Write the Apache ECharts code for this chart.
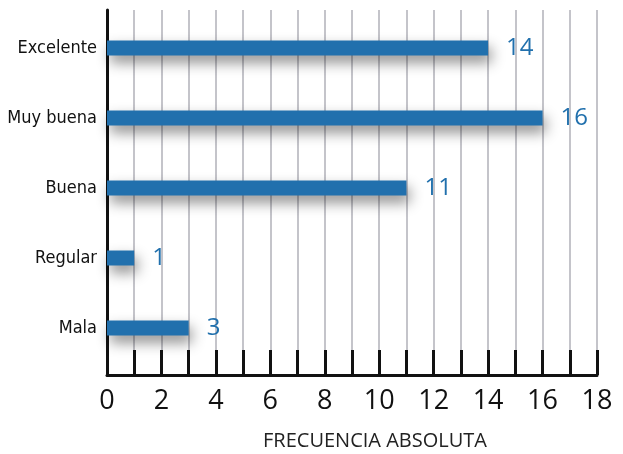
<!DOCTYPE html>
<html>
<head>
<meta charset="utf-8">
<style>
  html, body { margin: 0; padding: 0; background: #fff; }
  #chart { width: 623px; height: 454px; }
</style>
<script src="https://cdn.jsdelivr.net/npm/echarts@6/dist/echarts.min.js"></script>
</head>
<body>
<div id="chart"></div>
<script>
// Calidad percibida: frecuencia absoluta por categoría
const categories = ['Mala', 'Regular', 'Buena', 'Muy buena', 'Excelente'];
const frecuencias = [3, 1, 11, 16, 14];
const xMin = 0;
const xMax = 18;
const axisTitle = 'FRECUENCIA ABSOLUTA';

const barColor = '#2170ad';
const labelFont = '"Open Sans", "DejaVu Sans", sans-serif';
const catFont = '"DejaVu Sans Condensed", "Liberation Sans Narrow", sans-serif';

const chart = echarts.init(document.getElementById('chart'), null, { renderer: 'canvas' });

chart.setOption({
  animation: false,
  grid: [
    // frame grid: vertical lines, ticks and the frequency axis
    { left: 107, right: 26, top: 10, bottom: 79, outerBoundsMode: 'none', containLabel: false },
    // bar grid: category bands
    { left: 107, right: 26, top: 13, bottom: 91, outerBoundsMode: 'none', containLabel: false }
  ],
  xAxis: [
    {
      gridIndex: 0,
      type: 'value',
      min: xMin,
      max: xMax,
      interval: 1,
      axisLine: { show: true, lineStyle: { color: '#111', width: 3 } },
      axisTick: { show: true, inside: true, length: 25, lineStyle: { color: '#111', width: 3 } },
      splitLine: { show: true, lineStyle: { color: '#b0b0b8', width: 1.5 } },
      axisLabel: {
        margin: 13,
        fontSize: 27,
        color: '#111',
        fontFamily: labelFont,
        formatter: v => (v % 2 === 0 ? String(v) : '')
      },
      name: axisTitle,
      nameLocation: 'middle',
      nameGap: 56,
      nameTextStyle: { fontSize: 20, color: '#222', fontFamily: labelFont, padding: [0, 0, 0, 46] }
    },
    {
      gridIndex: 1,
      type: 'value',
      min: xMin,
      max: xMax,
      show: false
    }
  ],
  yAxis: [
    {
      gridIndex: 0,
      type: 'value',
      min: 0,
      max: 1,
      axisLine: { show: true, lineStyle: { color: '#111', width: 3 } },
      axisTick: { show: false },
      axisLabel: { show: false },
      splitLine: { show: false }
    },
    {
      gridIndex: 1,
      type: 'category',
      data: categories,
      axisLine: { show: false },
      axisTick: { show: false },
      splitLine: { show: false },
      axisLabel: {
        margin: 10,
        fontSize: 18,
        color: '#111',
        fontFamily: catFont
      }
    }
  ],
  series: [
    {
      type: 'bar',
      xAxisIndex: 1,
      yAxisIndex: 1,
      data: frecuencias,
      barWidth: 15,
      itemStyle: {
        color: barColor,
        shadowColor: 'rgba(0,0,0,0.45)',
        shadowBlur: 14,
        shadowOffsetX: 3,
        shadowOffsetY: 7
      },
      label: {
        show: true,
        position: 'right',
        distance: 18,
        fontSize: 24,
        color: barColor,
        fontFamily: labelFont
      }
    }
  ]
});
</script>
</body>
</html>
